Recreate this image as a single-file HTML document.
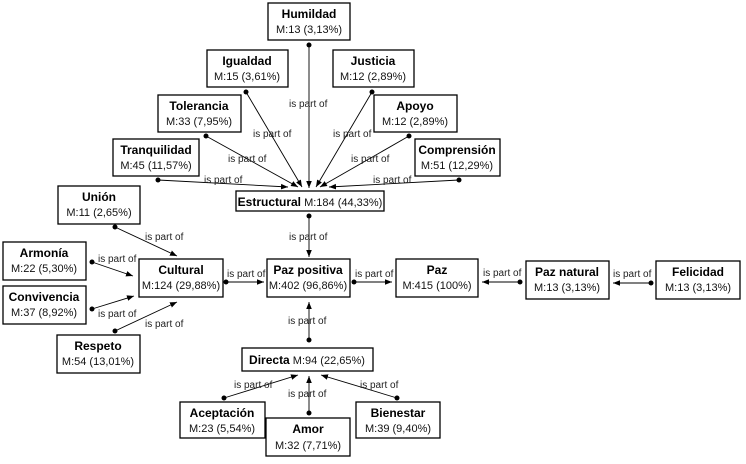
<!DOCTYPE html>
<html><head><meta charset="utf-8"><style>
html,body{margin:0;padding:0;background:#fff;}
svg{display:block;font-family:"Liberation Sans Narrow","Liberation Sans",Arial,sans-serif;}
.b{fill:#fff;stroke:#000;stroke-width:1.3}
.t{font-weight:bold;font-size:12px;fill:#000}
.m{font-size:11px;fill:#111}
.l{font-size:10px;fill:#222}
.e{stroke:#000;stroke-width:0.9;fill:none;marker-start:url(#dot);marker-end:url(#arr)}
</style></head><body>
<svg width="746" height="464" viewBox="0 0 746 464" xmlns="http://www.w3.org/2000/svg">
<defs>
<marker id="arr" viewBox="0 0 10 10" refX="10" refY="5" markerWidth="7" markerHeight="7" orient="auto" markerUnits="userSpaceOnUse"><path d="M0,1 L10,5 L0,9 z" fill="#000"/></marker>
<marker id="dot" viewBox="0 0 10 10" refX="5" refY="5" markerWidth="5" markerHeight="5" markerUnits="userSpaceOnUse"><circle cx="5" cy="5" r="5" fill="#000"/></marker>
</defs>

<!-- edges -->
<line class="e" x1="309" y1="45" x2="309" y2="188"/>
<line class="e" x1="246" y1="92" x2="302" y2="187"/>
<line class="e" x1="372" y1="92" x2="316" y2="187"/>
<line class="e" x1="206" y1="136" x2="298" y2="187"/>
<line class="e" x1="409" y1="136" x2="320" y2="187"/>
<line class="e" x1="158" y1="180" x2="288" y2="187"/>
<line class="e" x1="459" y1="180" x2="329" y2="187"/>
<line class="e" x1="309" y1="216" x2="309" y2="257"/>
<line class="e" x1="115" y1="227" x2="177" y2="256"/>
<line class="e" x1="92" y1="262" x2="133" y2="276"/>
<line class="e" x1="92" y1="309" x2="134" y2="296"/>
<line class="e" x1="115" y1="331" x2="177" y2="302"/>
<line class="e" x1="226" y1="282" x2="264" y2="282"/>
<line class="e" x1="354" y1="282" x2="392" y2="282"/>
<line class="e" x1="520" y1="282" x2="482" y2="282"/>
<line class="e" x1="651" y1="283" x2="613" y2="283"/>
<line class="e" x1="309" y1="340" x2="309" y2="302"/>
<line class="e" x1="224" y1="398" x2="298" y2="375"/>
<line class="e" x1="309" y1="413" x2="309" y2="376"/>
<line class="e" x1="397" y1="398" x2="321" y2="375"/>

<!-- edge labels -->
<g class="l">
<text x="289" y="107">is part of</text>
<text x="253" y="137">is part of</text>
<text x="333" y="137">is part of</text>
<text x="228" y="162">is part of</text>
<text x="351" y="162">is part of</text>
<text x="204" y="183">is part of</text>
<text x="373" y="183">is part of</text>
<text x="289" y="240">is part of</text>
<text x="145" y="240">is part of</text>
<text x="98" y="262">is part of</text>
<text x="98" y="317">is part of</text>
<text x="145" y="327">is part of</text>
<text x="227" y="277">is part of</text>
<text x="355" y="277">is part of</text>
<text x="483" y="276">is part of</text>
<text x="613" y="277">is part of</text>
<text x="288" y="324">is part of</text>
<text x="234" y="388">is part of</text>
<text x="288" y="397">is part of</text>
<text x="360" y="388">is part of</text>
</g>

<!-- nodes -->
<g text-anchor="middle">
<rect class="b" x="268" y="3" width="82" height="37"/><text class="t" x="309" y="18">Humildad</text><text class="m" x="309" y="33">M:13 (3,13%)</text>
<rect class="b" x="207" y="50" width="81" height="37"/><text class="t" x="247" y="65">Igualdad</text><text class="m" x="247" y="80">M:15 (3,61%)</text>
<rect class="b" x="333" y="50" width="81" height="37"/><text class="t" x="373" y="65">Justicia</text><text class="m" x="373" y="80">M:12 (2,89%)</text>
<rect class="b" x="158" y="95" width="83" height="37"/><text class="t" x="199" y="110">Tolerancia</text><text class="m" x="199" y="125">M:33 (7,95%)</text>
<rect class="b" x="374" y="95" width="83" height="37"/><text class="t" x="415" y="110">Apoyo</text><text class="m" x="415" y="125">M:12 (2,89%)</text>
<rect class="b" x="113" y="139" width="86" height="37"/><text class="t" x="156" y="154">Tranquilidad</text><text class="m" x="156" y="169">M:45 (11,57%)</text>
<rect class="b" x="415" y="139" width="85" height="37"/><text class="t" x="457" y="154">Comprensión</text><text class="m" x="457" y="169">M:51 (12,29%)</text>
<rect class="b" x="236" y="191" width="148" height="20"/><text x="310" y="206"><tspan class="t">Estructural</tspan><tspan class="m"> M:184 (44,33%)</tspan></text>
<rect class="b" x="58" y="186" width="82" height="38"/><text class="t" x="99" y="201">Unión</text><text class="m" x="99" y="216">M:11 (2,65%)</text>
<rect class="b" x="3" y="242" width="83" height="38"/><text class="t" x="44" y="257">Armonía</text><text class="m" x="44" y="272">M:22 (5,30%)</text>
<rect class="b" x="3" y="286" width="83" height="38"/><text class="t" x="44" y="301">Convivencia</text><text class="m" x="44" y="316">M:37 (8,92%)</text>
<rect class="b" x="139" y="259" width="84" height="38"/><text class="t" x="181" y="274">Cultural</text><text class="m" x="181" y="289">M:124 (29,88%)</text>
<rect class="b" x="267" y="259" width="83" height="38"/><text class="t" x="308" y="274">Paz positiva</text><text class="m" x="308" y="289">M:402 (96,86%)</text>
<rect class="b" x="396" y="259" width="82" height="38"/><text class="t" x="437" y="274">Paz</text><text class="m" x="437" y="289">M:415 (100%)</text>
<rect class="b" x="526" y="261" width="83" height="38"/><text class="t" x="567" y="276">Paz natural</text><text class="m" x="567" y="291">M:13 (3,13%)</text>
<rect class="b" x="656" y="261" width="84" height="38"/><text class="t" x="698" y="276">Felicidad</text><text class="m" x="698" y="291">M:13 (3,13%)</text>
<rect class="b" x="57" y="335" width="83" height="38"/><text class="t" x="98" y="350">Respeto</text><text class="m" x="98" y="365">M:54 (13,01%)</text>
<rect class="b" x="242" y="348" width="131" height="23"/><text x="307" y="364"><tspan class="t">Directa</tspan><tspan class="m"> M:94 (22,65%)</tspan></text>
<rect class="b" x="180" y="402" width="85" height="36"/><text class="t" x="222" y="417">Aceptación</text><text class="m" x="222" y="432">M:23 (5,54%)</text>
<rect class="b" x="266" y="418" width="84" height="38"/><text class="t" x="308" y="433">Amor</text><text class="m" x="308" y="449">M:32 (7,71%)</text>
<rect class="b" x="356" y="402" width="84" height="36"/><text class="t" x="398" y="417">Bienestar</text><text class="m" x="398" y="432">M:39 (9,40%)</text>
</g>
</svg>
</body></html>
